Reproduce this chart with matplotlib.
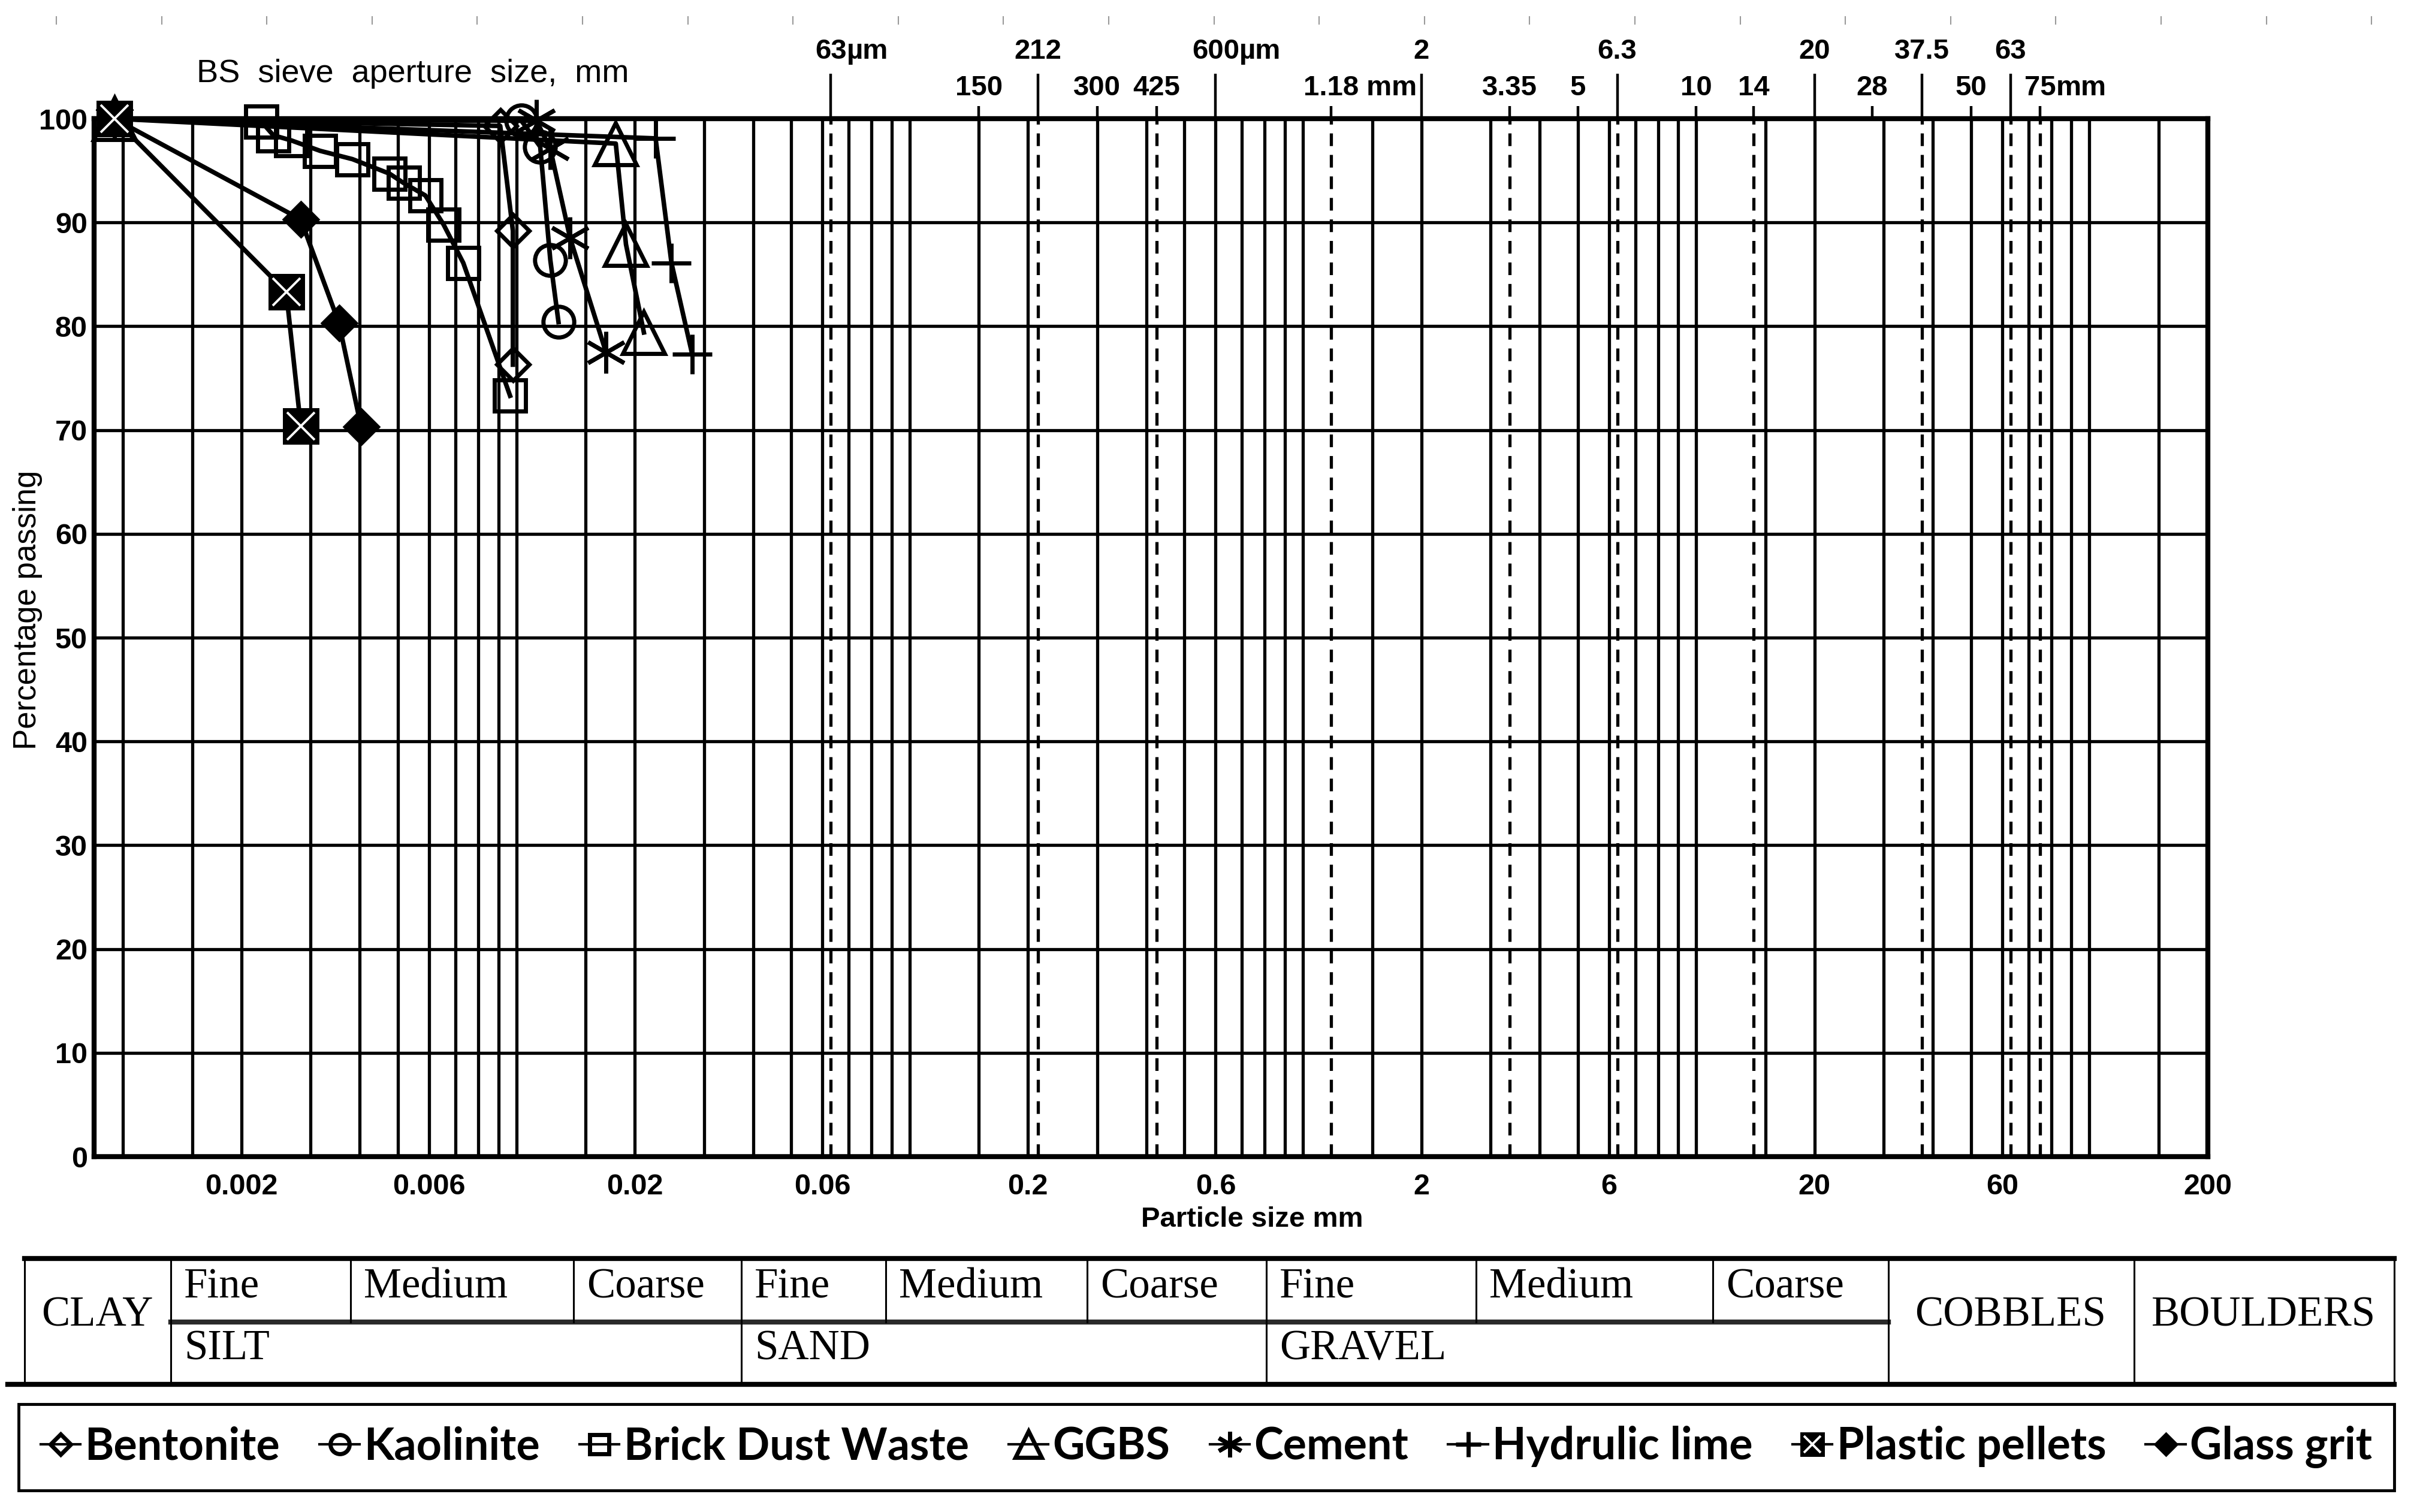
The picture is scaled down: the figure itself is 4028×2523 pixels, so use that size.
import numpy as np
import matplotlib.pyplot as plt
from matplotlib.lines import Line2D
from matplotlib.ticker import NullLocator

plt.rcParams['font.family'] = ['Liberation Sans', 'DejaVu Sans']

# grading data: particle size (mm) / percentage passing
bentonite_x = [0.00095, 0.0091, 0.0098, 0.0098]
bentonite_y = [100, 99.3, 89.2, 76.3]
kaolinite_x = [0.00095, 0.0103, 0.0115, 0.0122, 0.0128]
kaolinite_y = [100, 99.8, 97.3, 86.4, 80.4]
brick_x = [0.00095, 0.00225, 0.00241, 0.00268, 0.00317, 0.00383, 0.00476,
           0.00517, 0.00587, 0.00653, 0.00733, 0.00964]
brick_y = [100, 99.7, 98.4, 97.9, 96.9, 96.1, 94.7, 93.8, 92.6, 89.8, 86.1, 73.3]
ggbs_x = [0.00095, 0.0179, 0.0190, 0.0211]
ggbs_y = [100, 97.6, 87.9, 79.4]
cement_x = [0.00095, 0.01125, 0.0122, 0.0137, 0.0169]
cement_y = [100, 99.8, 97.1, 88.5, 77.5]
lime_x = [0.00095, 0.0226, 0.0248, 0.028]
lime_y = [100, 98.1, 86.1, 77.3]
plastic_x = [0.00095, 0.0026, 0.00283]
plastic_y = [100, 83.3, 70.4]
glass_x = [0.00095, 0.00283, 0.00354, 0.00403]
glass_y = [100, 90.3, 80.3, 70.3]

# chart furniture
grid_mult = [1, 1.5, 2, 3, 4, 5, 6, 7, 8, 9]
grid_decades = [0.001, 0.01, 0.1, 1, 10, 100]
sieve_sizes = [0.063, 0.212, 0.425, 1.18, 3.35, 6.3, 14, 37.5, 63, 75]
bottom_ticks = [0.002, 0.006, 0.02, 0.06, 0.2, 0.6, 2, 6, 20, 60, 200]
bottom_labels = ['0.002', '0.006', '0.02', '0.06', '0.2', '0.6', '2', '6', '20', '60', '200']
top_upper = [0.063, 0.212, 0.6, 2, 6.3, 20, 37.5, 63]
top_upper_num = ['63', '212', '600', '2', '6.3', '20', '37.5', '63']
top_upper_unit = ['µm', '', 'µm', '', '', '', '', '']
top_lower = [0.15, 0.3, 0.425, 1.18, 3.35, 5, 10, 14, 28, 50, 75]
top_lower_num = ['150', '300', '425', '1.18', '3.35', '5', '10', '14', '28', '50', '75']
top_lower_unit = ['', '', '', ' mm', '', '', '', '', '', '', 'mm']

groups = ['CLAY', 'SILT', 'SAND', 'GRAVEL', 'COBBLES', 'BOULDERS']
subs = ['Fine', 'Medium', 'Coarse']

W, H = 4028, 2523
fig = plt.figure(figsize=(W / 100, H / 100), dpi=100)
px = lambda x: x / W
py = lambda y: 1 - y / H

ax = fig.add_axes([px(157), py(1930), px(3684) - px(157), py(198) - py(1930)])
ax.set_xscale('log')
ax.set_xlim(0.000844, 200)
ax.set_ylim(0, 100)

# grid
glw = 3.8
for d in grid_decades:
    for m in grid_mult:
        v = d * m
        if v <= 150:
            ax.axvline(v, color='black', lw=glw, zorder=1)
for v in sieve_sizes:
    ax.axvline(v, color='black', lw=glw, dashes=(4, 2.8), zorder=1)
for y in range(10, 100, 10):
    ax.axhline(y, color='black', lw=glw, zorder=1)
for s in ax.spines.values():
    s.set_linewidth(6)

ax.set_xticks(bottom_ticks, bottom_labels)
ax.xaxis.set_minor_locator(NullLocator())
ax.tick_params(axis='x', length=0, pad=20, labelsize=35)
ax.set_yticks(range(0, 101, 10))
ax.tick_params(axis='y', length=0, pad=8, labelsize=35)
for t in ax.get_xticklabels() + ax.get_yticklabels():
    t.set_fontweight('bold')

# top sieve axis
ax2 = ax.twiny()
ax2.set_xscale('log')
ax2.set_xlim(ax.get_xlim())
ax2.set_xticks(top_upper)
ax2.set_xticks(top_lower, minor=True)
ax2.tick_params(which='major', length=54, width=3.2, labeltop=False)
ax2.tick_params(which='minor', length=15, width=3.2, labeltop=False)
for s in ax2.spines.values():
    s.set_visible(False)
xtr = ax.get_xaxis_transform()


def top_label(v, num, unit, dy):
    t = ax.annotate(num, xy=(v, 1), xycoords=xtr, xytext=(0, dy), textcoords='offset points',
                    ha='center', va='center', fontsize=34, fontweight='bold')
    if unit:
        ax.annotate(unit, xy=(1, 0.5), xycoords=t, ha='left', va='center',
                    fontsize=34, fontweight='bold')


for v, n, u in zip(top_upper, top_upper_num, top_upper_unit):
    top_label(v, n, u, 81)
for v, n, u in zip(top_lower, top_lower_num, top_lower_unit):
    top_label(v, n, u, 37)

# data
kw = dict(color='black', lw=5.5, mew=5, zorder=3, clip_on=False)
h_ben, = ax.plot(bentonite_x, bentonite_y, marker='D', ms=28, mfc='none', **kw)
h_kao, = ax.plot(kaolinite_x, kaolinite_y, marker='o', ms=37, mfc='none', **kw)
h_bri, = ax.plot(brick_x, brick_y, marker='s', ms=37, mfc='none', **kw)
h_ggb, = ax.plot(ggbs_x, ggbs_y, marker='^', ms=51, mfc='none', **kw)
h_cem, = ax.plot(cement_x, cement_y, marker=(6, 2, 0), ms=50, **kw)
h_lim, = ax.plot(lime_x, lime_y, marker='+', ms=48, **kw)
h_gla, = ax.plot(glass_x, glass_y, marker='D', ms=27, mfc='black', **kw)
h_pla, = ax.plot(plastic_x, plastic_y, marker='s', ms=39, mfc='black', **kw)
h_plx, = ax.plot(plastic_x, plastic_y, ls='none', marker='x', ms=33, mew=2.8,
                 color='white', zorder=4, clip_on=False)

# titles
fig.text(px(46), py(1018), 'Percentage passing', rotation=90, ha='center', va='center',
         fontsize=38)
fig.text(px(2089), py(2035), 'Particle size mm', ha='center', va='center',
         fontsize=34, fontweight='bold')
fig.text(px(689), py(123), 'BS  sieve  aperture  size,  mm', ha='center', va='center',
         fontsize=39)

# scanner ruler marks along the top edge
for x in np.arange(94, W, 175.6):
    fig.add_artist(Line2D([px(x), px(x)], [py(28), py(40)], color='#9a9a9a', lw=1.5))

# classification table
t_top, t_mid, t_bot = 2100, 2206, 2310
edges = [41, 285, 1237, 2113, 3151, 3561, 3995]
sub_edges = [[285, 585, 957, 1237], [1237, 1478, 1814, 2113], [2113, 2463, 2858, 3151]]


def hline(y, x0, x1, lw, color='black'):
    fig.add_artist(Line2D([px(x0), px(x1)], [py(y), py(y)], color=color, lw=lw))


def vline(x, y0, y1, lw=2.2):
    fig.add_artist(Line2D([px(x), px(x)], [py(y0), py(y1)], color='black', lw=lw))


hline(t_top, 41, 3995, 6)
hline(t_bot, 13, 3995, 6)
hline(t_mid, 285, 3151, 6, '#2a2a2a')
for x in edges:
    vline(x, t_top, t_bot)
for row in sub_edges:
    for x in row[1:-1]:
        vline(x, t_top, t_mid)

tfont = dict(family=['Liberation Serif', 'DejaVu Serif'], fontsize=51)
fig.text(px(162), py(2195), groups[0], ha='center', va='center', **tfont)
fig.text(px(3355), py(2195), groups[4], ha='center', va='center', **tfont)
fig.text(px(3777), py(2195), groups[5], ha='center', va='center', **tfont)
for g, row in zip(groups[1:4], sub_edges):
    fig.text(px(row[0] + 22), py(2251), g, ha='left', va='center', **tfont)
    for s, x in zip(subs, row[:-1]):
        fig.text(px(x + 22), py(2148), s, ha='left', va='center', **tfont)

# legend
handles = [h_ben, h_kao, h_bri, h_ggb, h_cem, h_lim, (h_pla, h_plx), h_gla]
labels = ['Bentonite', 'Kaolinite', 'Brick Dust Waste', 'GGBS', 'Cement',
          'Hydrulic lime', 'Plastic pellets', 'Glass grit']
leg = fig.legend(handles, labels, loc='center', ncol=8, mode='expand',
                 bbox_to_anchor=(px(31), py(2496), px(3995) - px(31), py(2334) - py(2496)),
                 borderaxespad=0, fancybox=False, edgecolor='black', framealpha=1,
                 handlelength=0.9, handletextpad=0.1, markerscale=0.62, borderpad=0.5,
                 prop=dict(family=['Lato', 'DejaVu Sans'], weight='bold', size=53))
leg.get_frame().set_linewidth(3.5)
for h in leg.legend_handles:
    if isinstance(h, Line2D):
        h.set_linewidth(3)

fig.savefig('out.png', dpi=100, facecolor='white')
